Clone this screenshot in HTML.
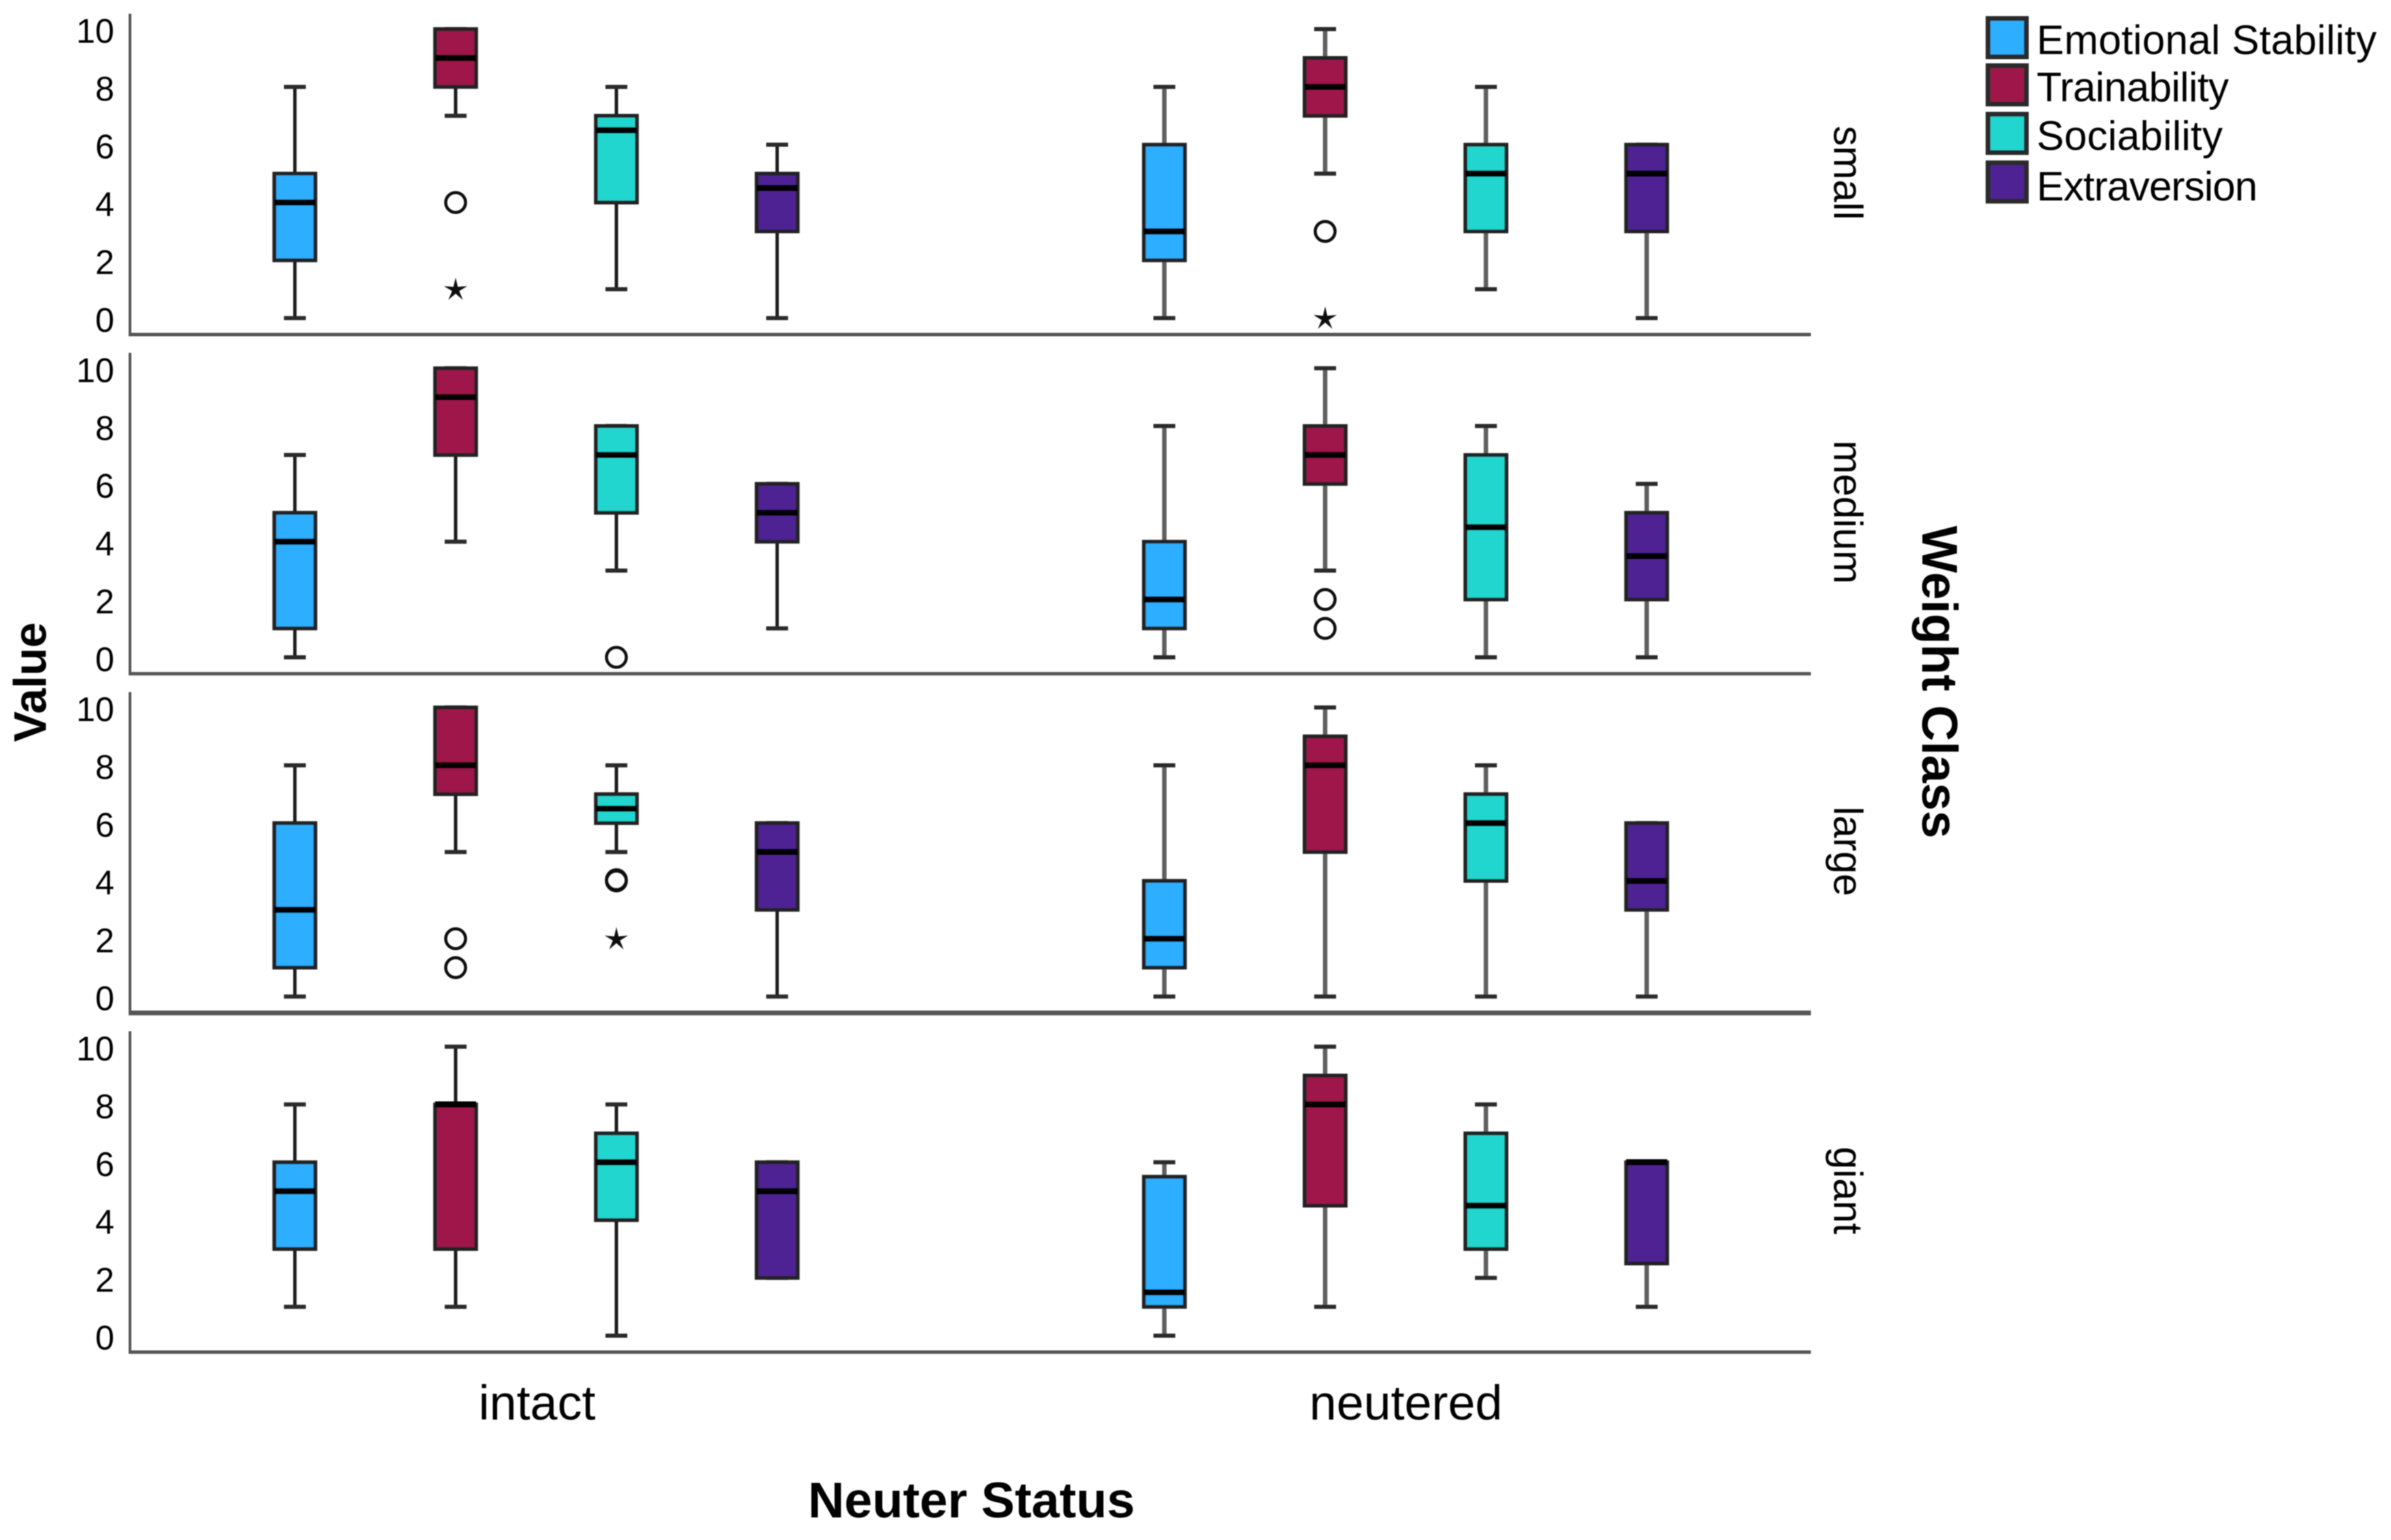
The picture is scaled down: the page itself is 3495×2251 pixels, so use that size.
<!DOCTYPE html>
<html lang="en">
<head>
<meta charset="utf-8">
<title>Boxplots of personality traits by neuter status and weight class</title>
<style>
html,body{margin:0;padding:0;background:#fff;width:3495px;height:2251px;overflow:hidden}
svg{display:block}
text{font-family:"Liberation Sans",Arial,sans-serif;fill:#000}
</style>
</head>
<body>
<svg id="chart" xmlns="http://www.w3.org/2000/svg" width="3495" height="2251" viewBox="0 0 3495 2251">
  <defs><filter id="soft" x="-2%" y="-2%" width="104%" height="104%"><feGaussianBlur stdDeviation="0.9"/></filter></defs>
  <g id="plot" filter="url(#soft)"></g>
</svg>
<script>
const weightClasses = ['small', 'medium', 'large', 'giant'];
const neuterStatuses = ['intact', 'neutered'];
const traits = ['Emotional Stability', 'Trainability', 'Sociability', 'Extraversion'];
const traitColors = ['#2eaeff', '#9f174c', '#20d6d0', '#4f2094'];
const yTicks = [0, 2, 4, 6, 8, 10];

// Each array: weight class -> neuter status -> trait
const q1Values = [
  [[2, 8, 4, 3], [2, 7, 3, 3]],
  [[1, 7, 5, 4], [1, 6, 2, 2]],
  [[1, 7, 6, 3], [1, 5, 4, 3]],
  [[3, 3, 4, 2], [1, 4.5, 3, 2.5]]
];
const medianValues = [
  [[4, 9, 6.5, 4.5], [3, 8, 5, 5]],
  [[4, 9, 7, 5], [2, 7, 4.5, 3.5]],
  [[3, 8, 6.5, 5], [2, 8, 6, 4]],
  [[5, 8, 6, 5], [1.5, 8, 4.5, 6]]
];
const q3Values = [
  [[5, 10, 7, 5], [6, 9, 6, 6]],
  [[5, 10, 8, 6], [4, 8, 7, 5]],
  [[6, 10, 7, 6], [4, 9, 7, 6]],
  [[6, 8, 7, 6], [5.5, 9, 7, 6]]
];
const whiskerLowValues = [
  [[0, 7, 1, 0], [0, 5, 1, 0]],
  [[0, 4, 3, 1], [0, 3, 0, 0]],
  [[0, 5, 5, 0], [0, 0, 0, 0]],
  [[1, 1, 0, 2], [0, 1, 2, 1]]
];
const whiskerHighValues = [
  [[8, 10, 8, 6], [8, 10, 8, 6]],
  [[7, 10, 8, 6], [8, 10, 8, 6]],
  [[8, 10, 8, 6], [8, 10, 8, 6]],
  [[8, 10, 8, 6], [6, 10, 8, 6]]
];
// Each row: weight class index, status index, trait index, value
const outlierValues = [
  [0, 0, 1, 4], [0, 1, 1, 3],
  [1, 0, 2, 0], [1, 1, 1, 2], [1, 1, 1, 1],
  [2, 0, 1, 2], [2, 0, 1, 1], [2, 0, 2, 4], [2, 0, 2, 4.04]
];
const extremeValues = [
  [0, 0, 1, 1], [0, 1, 1, 0], [2, 0, 2, 2]
];

const SVGNS = 'http://www.w3.org/2000/svg';
const plot = document.getElementById('plot');

function make(tag, attrs, parent, text) {
  const node = document.createElementNS(SVGNS, tag);
  for (const key in attrs) node.setAttribute(key, attrs[key]);
  if (text !== undefined) node.textContent = text;
  parent.appendChild(node);
  return node;
}

const PANEL_PITCH = 495.8, ZERO_Y = 465, UNIT = 42.25;
function yScale(panel, value) { return ZERO_Y + panel * PANEL_PITCH - value * UNIT; }
function baseY(panel) { return yScale(panel, 0) + 24; }
const STATUS_X = [431, 1702], TRAIT_STEP = 235;
function xScale(status, trait) { return STATUS_X[status] + trait * TRAIT_STEP; }

const AXIS_X = 190, AXIS_RIGHT = 2647, BOX_W = 60, CAP_W = 32;
const AXIS_INK = '#555';
const whiskerInk = ['#1c1c1c', '#5e5e5e'];
const whiskerWidth = [5, 6.5];

weightClasses.forEach(function (weightClass, p) {
  const panel = make('g', {}, plot);
  
  

  const yAxis = make('line', { x1: AXIS_X, x2: AXIS_X, y1: baseY(p) - 469, y2: baseY(p), stroke: AXIS_INK, 'stroke-width': 4 }, panel);
  
  

  const xAxis = make('line', { x1: AXIS_X - 2, x2: AXIS_RIGHT, y1: baseY(p), y2: baseY(p), stroke: AXIS_INK, 'stroke-width': p === 2 ? 7 : 5 }, panel);
  
  

  yTicks.forEach(function (tick) {
    const label = make('text', { x: 167, y: yScale(p, tick) + 20, 'text-anchor': 'end', 'font-size': 50 }, panel, String(tick));
    
    
  });

  const stripY = yScale(p, 5) - 1;
  const strip = make('text', { transform: 'translate(2681 ' + stripY + ') rotate(90)', 'text-anchor': 'middle', 'font-size': 59 }, panel, weightClass);
  
  

  neuterStatuses.forEach(function (status, s) {
    traits.forEach(function (trait, t) {
      const x = xScale(s, t);
      const slug = trait.toLowerCase().replace(/\s+/g, '-');
      const box = make('g', {}, panel);
      
      

      const whisker = make('line', { x1: x, x2: x, y1: yScale(p, whiskerLowValues[p][s][t]), y2: yScale(p, whiskerHighValues[p][s][t]), stroke: whiskerInk[s], 'stroke-width': whiskerWidth[s] }, box);
      
      

      [whiskerLowValues[p][s][t], whiskerHighValues[p][s][t]].forEach(function (v) {
        const cap = make('line', { x1: x - CAP_W / 2, x2: x + CAP_W / 2, y1: yScale(p, v), y2: yScale(p, v), stroke: '#2a2a2a', 'stroke-width': 6 }, box);
        
        
      });

      const top = yScale(p, q3Values[p][s][t]);
      const bottom = yScale(p, q1Values[p][s][t]);
      const rect = make('rect', { x: x - BOX_W / 2, y: top, width: BOX_W, height: bottom - top, fill: traitColors[t], stroke: '#222', 'stroke-width': 5.5 }, box);
      
      

      const my = yScale(p, medianValues[p][s][t]);
      const median = make('line', { x1: x - BOX_W / 2, x2: x + BOX_W / 2, y1: my, y2: my, stroke: '#000', 'stroke-width': 9 }, box);
      
      
    });
  });
});

outlierValues.forEach(function (row) {
  const mark = make('circle', { cx: xScale(row[1], row[2]), cy: yScale(row[0], row[3]), r: 14.5, fill: 'none', stroke: '#111', 'stroke-width': 4.5 }, plot);
  
  
});

extremeValues.forEach(function (row) {
  const cx = xScale(row[1], row[2]), cy = yScale(row[0], row[3]) + 1;
  let points = '';
  for (let i = 0; i < 10; i++) {
    const r = i % 2 === 0 ? 18 : 5.5;
    const a = -Math.PI / 2 + i * Math.PI / 5;
    points += (cx + r * Math.cos(a)).toFixed(1) + ',' + (cy + r * Math.sin(a)).toFixed(1) + ' ';
  }
  const star = make('polygon', { points: points, fill: '#111' }, plot);
  
  
});

const categoryX = [785, 2055];
neuterStatuses.forEach(function (status, s) {
  const label = make('text', { x: categoryX[s], y: 2075, 'text-anchor': 'middle', 'font-size': 71.5 }, plot, status);
  
  
});

const xTitle = make('text', { x: 1420, y: 2218, 'text-anchor': 'middle', 'font-size': 73.5, 'font-weight': 'bold' }, plot, 'Neuter Status');



const yTitle = make('text', { transform: 'translate(67 997) rotate(-90)', 'text-anchor': 'middle', 'font-size': 67, 'font-weight': 'bold' }, plot, 'Value');



const rightTitle = make('text', { transform: 'translate(2810 997) rotate(90)', 'text-anchor': 'middle', 'font-size': 73, 'font-weight': 'bold' }, plot, 'Weight Class');



const legend = make('g', {}, plot);


const legendSwatchTop = [27, 96, 167, 238];
const legendBaseline = [79, 148, 219, 293];
const legendTextWidth = [497, 281, 272, 323];
traits.forEach(function (trait, t) {
  const slug = trait.toLowerCase().replace(/\s+/g, '-');
  const entry = make('g', {}, legend);
  
  
  const swatch = make('rect', { x: 2906, y: legendSwatchTop[t], width: 56, height: 56, fill: traitColors[t], stroke: '#2a2a2a', 'stroke-width': 7 }, entry);
  
  
  const text = make('text', { x: 2977, y: legendBaseline[t], 'font-size': 60, textLength: legendTextWidth[t], lengthAdjust: 'spacing' }, entry, trait);
  
  
});
</script>
</body>
</html>
